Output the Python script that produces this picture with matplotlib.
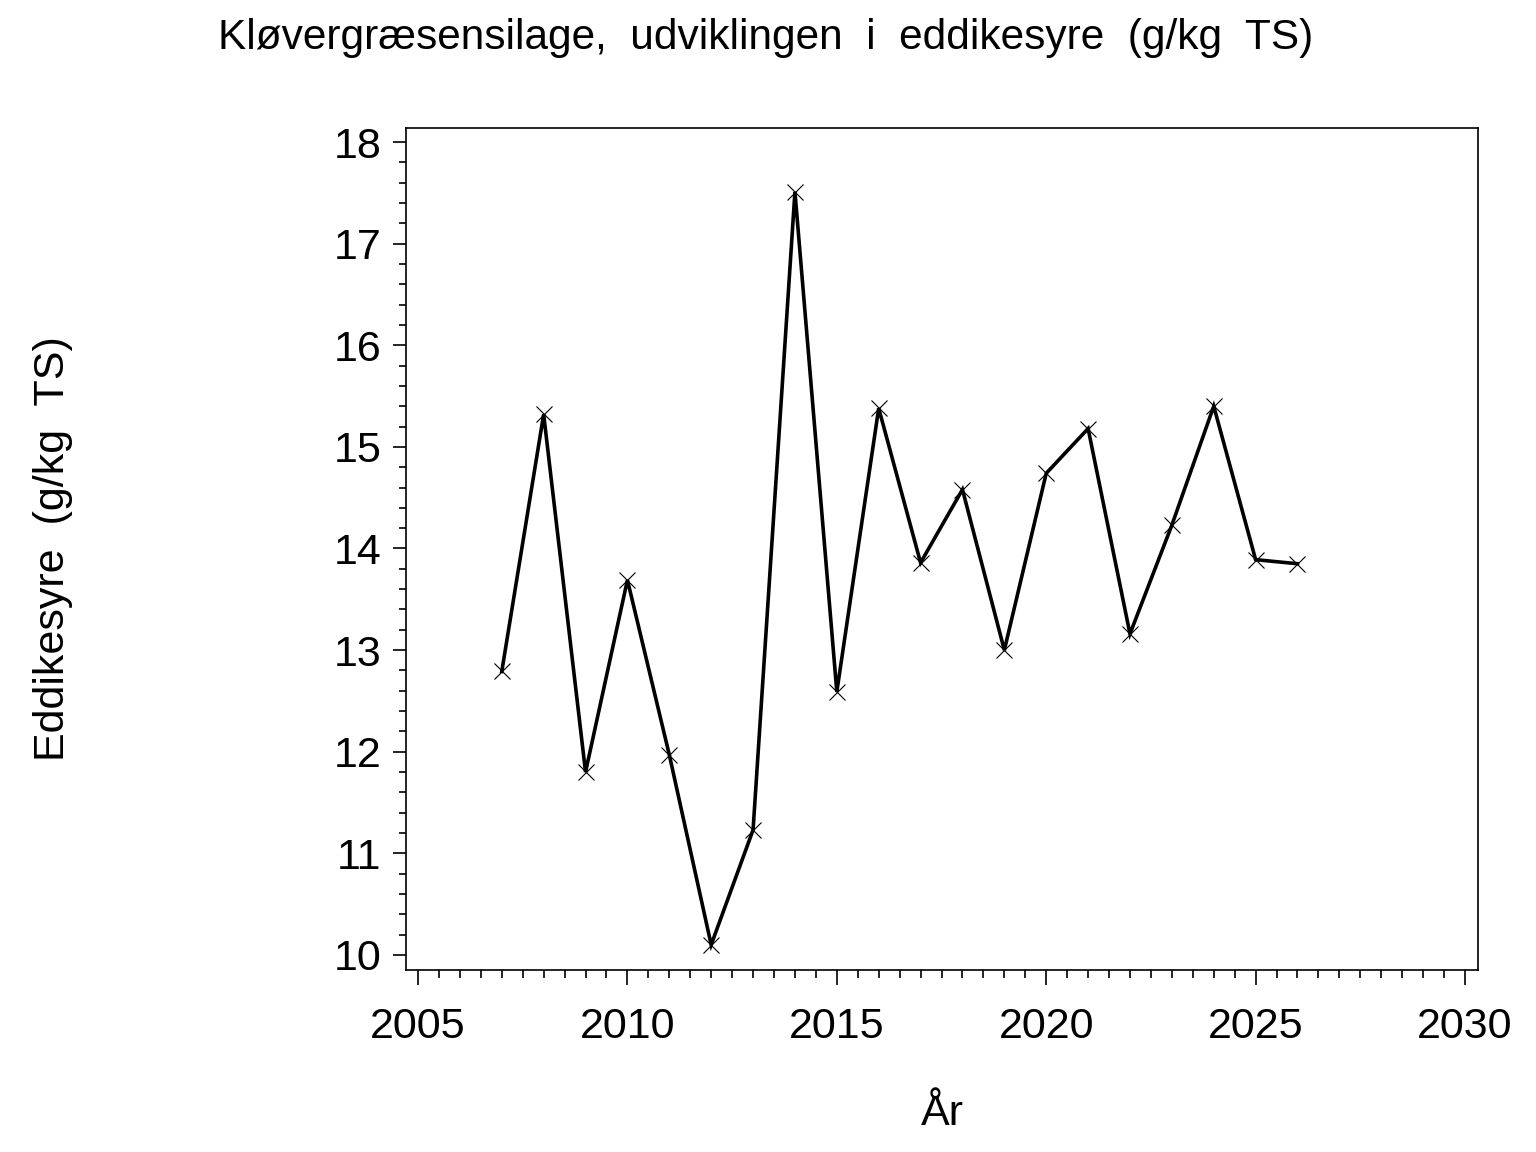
import matplotlib
matplotlib.use("Agg")
import matplotlib.pyplot as plt
from matplotlib.ticker import MultipleLocator

years = [2007, 2008, 2009, 2010, 2011, 2012, 2013, 2014, 2015, 2016,
         2017, 2018, 2019, 2020, 2021, 2022, 2023, 2024, 2025, 2026]
eddikesyre = [12.79, 15.32, 11.80, 13.69, 11.97, 10.10, 11.23, 17.51, 12.59, 15.38,
              13.86, 14.58, 13.00, 14.74, 15.18, 13.16, 14.23, 15.40, 13.89, 13.85]

title = "Kløvergræsensilage,  udviklingen  i  eddikesyre  (g/kg  TS)"
xlabel = "År"
ylabel = "Eddikesyre  (g/kg  TS)"

plt.rcParams['font.family'] = ['Liberation Sans', 'DejaVu Sans']

W, H = 1536, 1152
fig = plt.figure(figsize=(W/100, H/100), dpi=100)
ax = fig.add_axes([406/W, 1 - 970/H, (1478-406)/W, (970-128)/H])

ax.plot(years, eddikesyre, color='black', linewidth=2.6, marker='x',
        markersize=11.5, markeredgewidth=0.8, solid_joinstyle='miter')

ax.set_xlim(2004.713, 2030.31)
ax.set_ylim(9.852, 18.138)
ax.xaxis.set_major_locator(MultipleLocator(5))
ax.xaxis.set_minor_locator(MultipleLocator(0.5))
ax.yaxis.set_major_locator(MultipleLocator(1))
ax.yaxis.set_minor_locator(MultipleLocator(0.2))

ax.tick_params(axis='both', which='major', direction='out', width=1.2, labelsize=31, colors='black')
ax.tick_params(axis='x', which='major', length=11, pad=16)
ax.tick_params(axis='x', which='minor', length=6, width=1.2)
ax.tick_params(axis='y', which='major', length=9.5, pad=8)
ax.tick_params(axis='y', which='minor', length=5, width=1.2)
for s in ax.spines.values():
    s.set_linewidth(1.2)

fig.text(766/W, 1 - 49/H, title, ha='center', va='baseline', fontsize=30.5)
fig.text(942/W, 1 - 1125/H, xlabel, ha='center', va='baseline', fontsize=31)
fig.text(64/W, 1 - 549/H, ylabel, ha='center', va='baseline', rotation=90,
         rotation_mode='anchor', fontsize=31)

fig.savefig("out.png", dpi=100)
